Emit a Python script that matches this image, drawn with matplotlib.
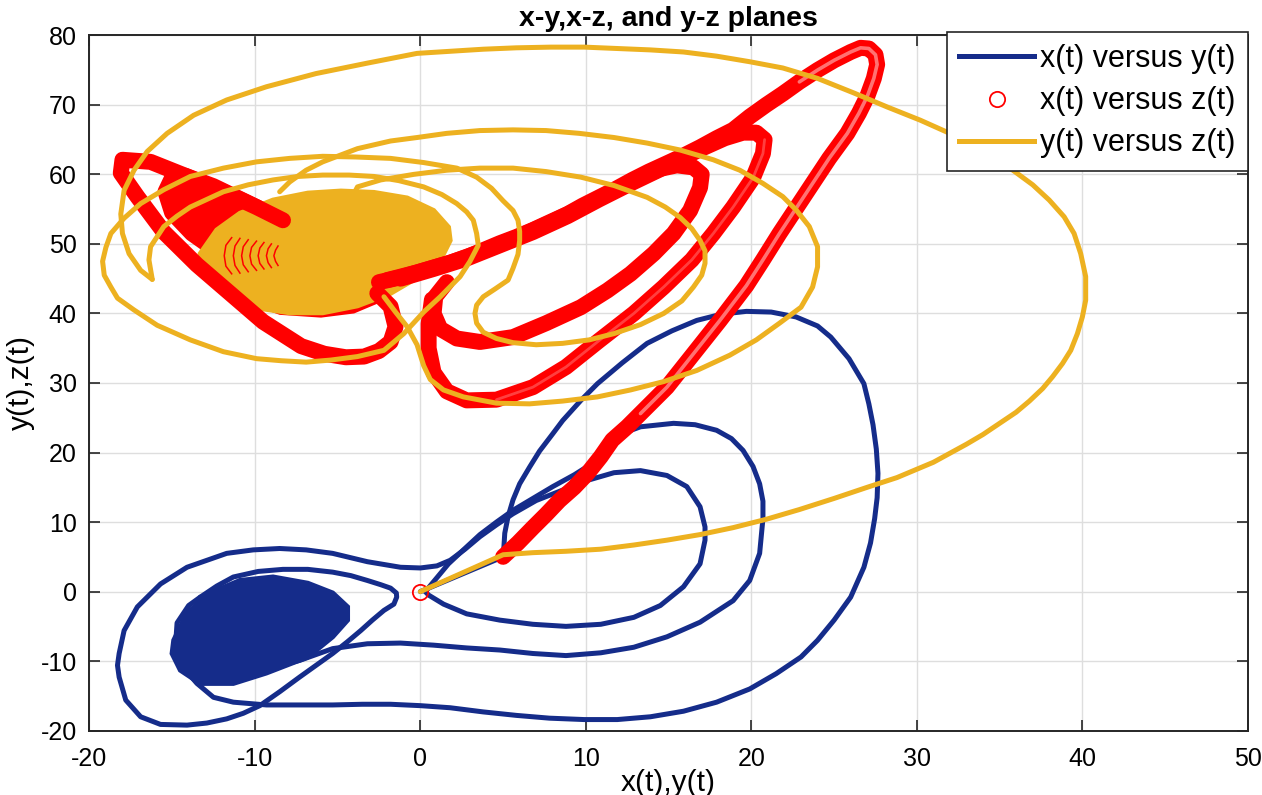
import numpy as np
import matplotlib.pyplot as plt

plt.rcParams['font.family'] = ['Liberation Sans', 'DejaVu Sans']
plt.rcParams['axes.unicode_minus'] = False

# ---- blue: x(t) versus y(t) ----
# start, outer right loop, bottom return to the left wing
blue_out_x = [0, 5.0, 5.05, 5.1, 5.3, 5.6, 6.0, 6.6, 7.2, 8.0, 8.6, 9.7, 10.7, 12.2, 13.7, 15.2, 16.7, 18.2, 19.7,
              21.2, 22.7, 24.0, 24.8, 25.9, 26.8, 27.1, 27.35, 27.55, 27.65, 27.6, 27.45, 27.2, 26.8, 26.0, 25.0,
              24.0, 23.0, 21.5, 19.9, 17.9, 15.9, 13.9, 11.9, 9.9, 7.8, 5.8, 3.8, 1.8, 0.0, -1.8, -3.5, -5.3, -7.3,
              -9.3, -11.3, -12.5, -13.5, -14.3, -14.8, -14.7, -14.0, -13.3]
blue_out_y = [0, 5.0, 6.5, 8.4, 10.8, 13.2, 15.5, 17.9, 20.2, 22.7, 24.6, 27.5, 29.9, 32.9, 35.7, 37.5, 39.0, 39.9,
              40.3, 40.2, 39.5, 38.2, 36.6, 33.5, 29.9, 27.0, 24.0, 20.5, 17.0, 13.5, 10.5, 7.0, 3.5, -0.8, -4.1,
              -7.0, -9.4, -11.8, -14.0, -15.9, -17.2, -18.0, -18.4, -18.4, -18.2, -17.8, -17.3, -16.7, -16.4, -16.2,
              -16.2, -16.3, -16.3, -16.3, -15.9, -15.2, -13.2, -11.0, -8.0, -4.5, -2.0, -0.8]
# inner left loop, wide left loop, back across to the right wing
blue_left_x = [-13.3, -12.3, -11.3, -9.8, -8.3, -6.8, -5.3, -4.2, -3.2, -2.4, -1.8, -1.45, -1.43, -1.6, -2.2,
               -2.9, -3.6, -4.4, -5.3, -6.3, -7.3, -8.5, -9.7, -10.7, -11.7, -12.9, -14.1, -15.7, -16.9, -17.8,
               -18.2, -18.3, -18.2, -17.9, -17.1, -15.7, -14.1, -11.7, -10.1, -8.5, -6.9, -5.3, -3.2, -1.2, 0.0,
               1.0, 1.8, 2.7, 3.6, 4.6, 5.6, 7.0, 8.6, 10.1, 11.7, 13.3, 14.9, 16.1, 16.9, 17.2, 17.2, 16.9,
               15.9, 14.5, 12.9, 10.9, 8.8, 6.8, 4.8, 2.8, 1.4, 0.5, 0.3]
blue_left_y = [-0.8, 0.8, 2.1, 2.9, 3.2, 3.2, 2.8, 2.3, 1.6, 1.0, 0.5, -0.2, -0.8, -1.8, -2.7, -4.1, -5.6, -7.2,
               -8.9, -10.6, -12.3, -14.4, -16.4, -17.5, -18.3, -18.9, -19.2, -19.1, -18.0, -15.6, -12.3, -10.6,
               -8.9, -5.6, -2.2, 1.1, 3.5, 5.5, 6.0, 6.2, 6.0, 5.5, 4.3, 3.5, 3.4, 3.7, 4.5, 6.1, 7.9, 9.6, 11.2,
               13.1, 14.6, 16.0, 17.1, 17.4, 16.7, 15.1, 12.2, 9.3, 7.4, 4.0, 0.7, -2.0, -3.7, -4.7, -5.0, -4.7,
               -4.1, -3.2, -1.8, -0.5, 0.0]
# second pass out of the origin, middle right loop, into the left focus
blue_mid_x = [0.3, 1.0, 1.7, 2.6, 3.6, 4.6, 5.6, 6.8, 8.0, 9.3, 10.5, 11.2, 11.7, 12.5, 13.3, 15.3, 16.6, 17.9, 18.8,
              19.5, 20.1, 20.5, 20.7, 20.7, 20.6, 20.5, 19.9, 18.9, 16.9, 14.9, 12.9, 10.9, 8.8, 6.8, 4.8, 2.8,
              0.8, -1.2, -3.2, -5.3, -7.3, -9.3, -11.3, -13.3]
blue_mid_y = [0.0, 2.0, 4.0, 6.0, 8.2, 10.0, 11.7, 13.4, 15.1, 16.8, 18.6, 20.2, 21.8, 23.0, 23.7, 24.2, 24.0, 23.2,
              22.0, 20.3, 18.0, 15.5, 13.0, 10.5, 8.0, 5.5, 1.6, -1.3, -4.4, -6.5, -8.0, -8.8, -9.2, -8.9, -8.4,
              -8.1, -7.7, -7.4, -7.5, -8.2, -9.9, -11.1, -12.3, -13.2]
blue_blob_x = [-14.9, -14.1, -12.7, -10.9, -8.9, -6.8, -5.3, -4.4, -4.4, -5.3, -6.8, -9.3, -11.3, -13.3, -14.5, -15.0]
blue_blob_y = [-7.0, -3.1, -0.2, 1.6, 2.1, 1.2, -0.2, -2.2, -4.1, -6.5, -9.4, -11.7, -13.2, -13.2, -11.3, -8.9]

# ---- red: x(t) versus z(t) ----
red_start_x = [0]
red_start_z = [0]
# first rise to the top tip, then the long band back to the left focus
red_out_x = [5.0, 5.9, 6.8, 7.6, 8.4, 9.3, 10.1, 10.9, 11.6, 12.5, 13.3, 14.1, 14.9, 15.7, 16.5, 17.3, 18.1, 18.9,
             19.7, 20.7, 21.7, 22.7, 23.7, 24.7, 25.8, 26.5, 27.0, 27.4, 27.6, 27.5, 27.1, 26.6, 26.0, 25.0, 24.0,
             22.9, 21.9, 20.9, 19.9, 18.9, 17.9, 16.9, 15.9, 14.9, 13.8, 12.8, 11.8, 10.8, 9.8, 8.9, 7.8, 6.8, 5.8,
             4.8, 3.8, 2.8, 1.8, 0.8, -0.2, -1.2, -2.5]
red_out_z = [5.0, 7.0, 9.2, 11.1, 13.1, 15.0, 17.0, 19.4, 21.8, 23.7, 25.6, 27.5, 29.4, 31.8, 34.2, 36.6, 39.0, 41.5,
             44.0, 47.7, 51.5, 55.1, 58.7, 62.3, 65.9, 68.8, 71.2, 73.8, 75.8, 77.2, 78.1, 78.2, 77.6, 76.4, 75.0,
             73.3, 71.6, 70.0, 68.3, 66.4, 65.2, 63.9, 62.7, 61.6, 60.4, 59.2, 57.9, 56.7, 55.5, 54.3, 53.1, 52.0,
             51.0, 50.1, 49.1, 48.1, 47.3, 46.6, 45.9, 45.2, 44.5]
# small lobe on the upper left (filled)
red_lobe_x = [-8.3, -10.5, -12.5, -14.2, -15.0, -15.4, -15.0, -13.8, -12.2, -10.6, -9.0]
red_lobe_z = [53.4, 56.0, 58.3, 59.8, 59.5, 57.5, 54.5, 51.5, 48.8, 46.7, 45.8]
# wide left loop
red_left_x = [-2.6, -1.8, -1.5, -1.8, -2.5, -3.4, -4.5, -5.8, -7.2, -9.5, -11.5, -13.5, -15.5, -17.1, -18.1, -18.0,
              -16.3, -14.3, -11.9, -9.9, -8.3]
red_left_z = [42.9, 41.0, 38.1, 35.9, 34.6, 33.8, 33.7, 34.2, 35.3, 38.8, 42.9, 47.0, 51.7, 56.8, 60.2, 62.1, 61.8,
              59.9, 57.5, 55.3, 53.4]
# loop to the right with tip near x = 17
red_l3_x = [1.6, 0.9, 0.8, 1.2, 2.2, 3.6, 5.6, 7.6, 9.7, 11.3, 12.7, 14.1, 15.3, 16.3, 16.9, 17.0, 16.5, 15.5, 14.5,
            13.3, 11.8, 9.8, 7.8, 5.8, 3.8, 1.8, -0.2, -2.0]
red_l3_z = [44.5, 42.4, 40.0, 37.8, 36.4, 35.9, 36.6, 38.6, 40.9, 43.3, 45.7, 48.6, 51.5, 54.8, 58.1, 60.0, 61.0,
            61.3, 60.8, 59.6, 57.8, 55.3, 53.0, 50.9, 49.0, 47.3, 45.9, 44.8]
# loop to the right with tip near x = 21
red_l2_x = [0.7, 0.5, 0.5, 0.8, 1.6, 2.8, 4.6, 6.8, 8.8, 10.8, 12.9, 14.7, 16.4, 17.7, 18.9, 20.1, 20.7, 20.8, 20.3,
            19.5, 18.4, 16.9, 14.9, 12.8, 10.8, 8.9, 6.8, 4.8, 2.8, 0.8, -1.2]
red_l2_z = [42.0, 38.5, 35.0, 31.5, 28.8, 27.5, 27.6, 29.4, 32.3, 36.1, 40.0, 43.8, 47.7, 51.5, 55.3, 59.5, 63.0,
            65.0, 66.0, 66.0, 65.2, 63.6, 61.2, 58.8, 56.4, 54.0, 51.7, 49.8, 47.9, 46.4, 45.0]
red_blob_x = [-12.5, -11.5, -9.5, -6.5, -3.5, -1.5, -0.5, -1.0, -2.5, -4.0, -6.0, -8.5, -10.5, -12.0]
red_blob_z = [47.5, 52.0, 55.0, 56.5, 56.0, 53.5, 49.5, 45.0, 41.5, 40.0, 39.4, 39.8, 41.5, 44.0]
# inner turns of the left focus that show through the yellow patch
red_arcs_x = [-11.4, -11.75, -11.85, -11.75, -11.4, np.nan,
              -10.9, -11.2, -11.3, -11.2, -10.9, np.nan,
              -10.4, -10.7, -10.8, -10.7, -10.4, np.nan,
              -9.9, -10.2, -10.3, -10.2, -9.9, np.nan,
              -9.45, -9.7, -9.8, -9.7, -9.45, np.nan,
              -9.0, -9.2, -9.3, -9.2, -9.0, np.nan,
              -8.6, -8.75, -8.85, -8.75, -8.6]
red_arcs_z = [50.9, 49.8, 48.3, 46.8, 45.7, np.nan,
              50.8, 49.7, 48.3, 46.9, 45.8, np.nan,
              50.6, 49.6, 48.3, 47.0, 46.0, np.nan,
              50.4, 49.5, 48.3, 47.1, 46.2, np.nan,
              50.2, 49.4, 48.3, 47.2, 46.4, np.nan,
              50.0, 49.3, 48.3, 47.3, 46.6, np.nan,
              49.7, 49.1, 48.3, 47.5, 46.9]

# ---- yellow: y(t) versus z(t) ----
yel_out_y = [0, 5.0, 6.8, 8.8, 10.9, 12.9, 14.9, 16.9, 18.9, 20.9, 22.9, 25.0, 27.0, 28.8, 30.0, 31.0, 32.0, 33.0,
             34.0, 35.0, 36.0, 36.8, 37.6, 38.2, 38.8, 39.3, 39.7, 40.0, 40.2, 40.2, 39.9, 39.5, 38.9, 38.0, 37.0,
             35.8, 34.6, 33.2, 31.8, 30.2, 28.2, 26.2, 24.0, 21.9, 19.9, 17.9, 15.9, 13.9, 11.9, 9.9, 7.9, 5.8, 3.8,
             1.8, -0.2, -3.2, -6.3, -9.3, -11.7, -13.7, -15.3, -16.5, -17.3, -17.9, -18.1, -18.0, -17.6, -16.9,
             -16.2]
yel_out_z = [0, 5.3, 5.6, 5.8, 6.1, 6.7, 7.4, 8.2, 9.2, 10.4, 11.8, 13.4, 15.0, 16.4, 17.6, 18.6, 19.9, 21.2, 22.6,
             24.2, 25.8, 27.4, 29.2, 30.9, 32.8, 34.7, 37.1, 39.5, 41.9, 45.3, 48.6, 51.5, 53.9, 56.3, 58.5, 60.6,
             62.5, 64.5, 66.1, 67.8, 69.7, 71.7, 73.8, 75.3, 76.2, 77.0, 77.6, 77.9, 78.1, 78.3, 78.3, 78.2, 78.0,
             77.7, 77.4, 76.0, 74.5, 72.6, 70.7, 68.5, 65.9, 63.3, 60.6, 57.7, 54.3, 51.5, 48.6, 46.2, 44.9]
# left-wing loops after the cusp, then the loop reaching y = 17
yel_mid_y = [-16.2, -16.4, -16.3, -15.5, -14.7, -13.9, -11.9, -10.4, -8.9, -7.4, -5.9, -4.3, -2.8, -1.3, 0.2, 1.3,
             2.2, 2.8, 3.2, 3.4, 3.5, 3.0, 2.4, 1.2, 0.2, -1.0, -2.2, -3.8, -5.4, -6.9, -8.4, -9.9, -11.9, -13.9,
             -15.9, -17.3, -18.3, -18.7, -19.1, -19.2, -19.0, -18.7, -17.9, -16.9, -15.5, -13.9, -11.9, -9.9,
             -7.9, -5.9, -3.9, -1.8, 0.2, 2.2, 3.4, 4.3, 5.0, 5.6, 5.9, 6.0, 6.0, 5.9, 5.6, 5.3, 4.5, 3.8, 3.4,
             3.3, 3.4, 3.8, 4.6, 5.6, 7.0, 8.6, 10.2, 11.7, 13.3, 14.7, 15.8, 16.5, 17.0, 17.2, 17.2, 16.9, 16.4,
             15.7, 14.8, 13.7, 11.7, 9.7, 7.6, 5.6, 3.6, 1.6, -0.4, -2.4, -3.8, -4.5, -4.0, -3.0]
yel_mid_z = [44.9, 47.7, 49.6, 52.5, 54.0, 55.3, 57.5, 58.5, 59.2, 59.7, 59.9, 59.9, 59.7, 59.1, 58.2, 57.1, 55.8,
             54.6, 53.4, 51.5, 49.8, 47.5, 45.3, 42.4, 40.2, 37.1, 34.7, 33.8, 33.3, 33.0, 33.2, 33.5, 34.5, 36.2,
             38.3, 40.5, 42.2, 43.8, 45.5, 47.5, 49.5, 51.5, 53.7, 55.8, 57.8, 59.7, 60.9, 61.8, 62.3, 62.6, 62.5,
             62.3, 61.7, 60.9, 59.6, 58.0, 56.2, 54.8, 53.4, 51.8, 50.5, 48.5, 46.5, 44.8, 43.5, 42.4, 41.2, 40.0,
             38.6, 37.3, 36.4, 35.8, 35.5, 35.7, 36.2, 37.1, 38.4, 40.0, 41.8, 43.8, 45.5, 47.2, 49.0, 50.5, 52.2,
             53.8, 55.3, 56.7, 58.4, 59.6, 60.4, 60.9, 60.9, 60.6, 60.0, 59.2, 58.2, 55.0, 50.0, 45.5]
# last loop (reaching y = 24) and the entry into the left focus
yel_end_y = [-2.2, -1.5, -0.8, -0.2, 0.2, 0.6, 1.4, 2.6, 4.6, 6.6, 8.6, 10.7, 12.7, 14.7, 16.7, 18.7, 20.3, 21.7,
             23.0, 23.7, 24.0, 24.0, 23.5, 22.7, 21.9, 20.7, 19.3, 17.7, 15.7, 13.7, 11.7, 9.6, 7.6, 5.6, 3.6, 1.6,
             -0.2, -1.8, -3.8, -5.9, -6.9, -7.9, -8.5]
yel_end_z = [42.4, 40.2, 38.1, 35.5, 32.5, 30.5, 29.0, 28.0, 27.1, 27.0, 27.4, 28.0, 29.0, 30.2, 31.8, 34.0, 36.2,
             38.6, 40.9, 43.8, 46.7, 49.6, 52.5, 54.9, 56.8, 58.7, 60.6, 62.1, 63.5, 64.5, 65.3, 65.9, 66.3, 66.4,
             66.3, 65.9, 65.3, 64.8, 63.7, 61.8, 60.6, 58.9, 57.5]
yel_blob_y = [-13.3, -12.3, -10.9, -8.9, -6.8, -4.8, -2.8, -0.8, 0.8, 1.7, 1.8, 1.4, 0.2, -1.8, -3.8, -5.9, -7.9,
              -9.9, -11.5, -12.7, -13.2]
yel_blob_z = [48.6, 52.0, 54.4, 56.3, 57.3, 57.6, 57.4, 56.6, 54.8, 52.4, 50.5, 48.6, 45.7, 42.9, 41.1, 40.1, 40.1,
              40.8, 42.9, 45.2, 47.3]

BLUE = '#152c8a'
RED = '#ff0000'
YEL = '#edb120'

fig = plt.figure(figsize=(12.62, 7.95), dpi=100)
ax = fig.add_axes([0.0708, 0.0809, 0.9180, 0.8747])

lw = 3.6
kw = dict(solid_capstyle='round', solid_joinstyle='round')
for sx, sy in [(blue_out_x, blue_out_y), (blue_left_x, blue_left_y), (blue_mid_x, blue_mid_y)]:
    ax.plot(sx, sy, color=BLUE, lw=lw, **kw)
ax.fill(blue_blob_x, blue_blob_y, color=BLUE, lw=lw, ec=BLUE)

red_lw = 11.5
ax.fill(red_blob_x, red_blob_z, color=RED, lw=0)
ax.fill(red_lobe_x, red_lobe_z, color=RED, lw=red_lw, ec=RED, joinstyle='round')
for sx, sz in [(red_out_x, red_out_z), (red_left_x, red_left_z), (red_l3_x, red_l3_z), (red_l2_x, red_l2_z)]:
    ax.plot(sx, sz, color=RED, lw=red_lw, **kw)
# ring-chain look where the circles are spread out (fast parts of the path)
ax.plot(red_out_x[10:36], red_out_z[10:36], color='white', lw=2.6, alpha=0.45, **kw)
ax.plot(red_l2_x[6:18], red_l2_z[6:18], color='white', lw=2.0, alpha=0.25, **kw)
ax.plot(red_start_x, red_start_z, 'o', mfc='none', mec=RED, ms=11, mew=1.3)

for sy, sz in [(yel_out_y, yel_out_z), (yel_mid_y, yel_mid_z), (yel_end_y, yel_end_z)]:
    ax.plot(sy, sz, color=YEL, lw=lw, **kw)
ax.fill(yel_blob_y, yel_blob_z, color=YEL, lw=lw, ec=YEL)
ax.plot(red_arcs_x, red_arcs_z, color=RED, lw=1.1)

# legend proxies
h1, = ax.plot([], [], color=BLUE, lw=lw, label='x(t) versus y(t)')
h2, = ax.plot([], [], 'o', mfc='none', mec=RED, ms=11, mew=1.3, label='x(t) versus z(t)')
h3, = ax.plot([], [], color=YEL, lw=lw, label='y(t) versus z(t)')
leg = ax.legend(handles=[h1, h2, h3], loc='upper right', bbox_to_anchor=(1.0, 1.005), borderaxespad=0,
                fontsize=22, handlelength=2.45, handletextpad=0.2, labelspacing=0.4, borderpad=0.4,
                fancybox=False, framealpha=1, edgecolor='#262626')
leg.get_frame().set_linewidth(1.2)

ax.set_xlim(-20, 50)
ax.set_ylim(-20, 80)
ax.set_xticks(range(-20, 51, 10))
ax.set_yticks(range(-20, 81, 10))
ax.grid(True, color='#dedede', lw=1.0)
ax.set_axisbelow(True)
ax.tick_params(direction='in', length=8, width=1.2, top=True, right=True, labelsize=18,
               colors='#262626', labelcolor='black')
ax.tick_params(axis='x', pad=12)
ax.tick_params(axis='y', pad=9)
for s in ax.spines.values():
    s.set_color('#262626')
    s.set_linewidth(1.4)

ax.set_title('x-y,x-z, and y-z planes', fontsize=20.5, fontweight='bold', pad=7)
ax.set_xlabel('x(t),y(t)', fontsize=21.5, labelpad=-2)
ax.set_ylabel('y(t),z(t)', fontsize=21.5, labelpad=4)

fig.savefig('out.png', dpi=100)
